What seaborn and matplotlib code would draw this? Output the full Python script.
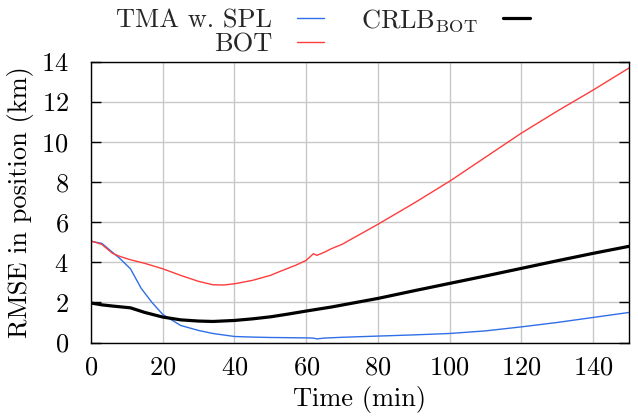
import numpy as np
import pandas as pd
import seaborn as sns
from matplotlib import pyplot as plt

# values
t_tma = [0, 3, 6, 8, 11, 14, 17, 20, 25, 30, 34, 40, 45, 50, 55, 60, 62, 63, 65, 70, 80, 90, 100, 110, 120, 130, 140, 150]
rmse_tma = [5.05, 4.95, 4.5, 4.2, 3.68, 2.7, 2.0, 1.4, 0.85, 0.6, 0.45, 0.3, 0.27, 0.25, 0.24, 0.23, 0.22, 0.18, 0.22, 0.26, 0.32, 0.38, 0.45, 0.58, 0.78, 1.0, 1.25, 1.5]

t_bot = [0, 3, 6, 8, 11, 15, 20, 25, 30, 34, 37, 40, 45, 50, 53, 57, 60, 62, 63, 65, 67, 70, 80, 90, 100, 110, 120, 130, 140, 150]
rmse_bot = [5.07, 4.9, 4.45, 4.3, 4.13, 3.95, 3.68, 3.35, 3.05, 2.88, 2.87, 2.93, 3.1, 3.35, 3.57, 3.85, 4.1, 4.43, 4.35, 4.5, 4.68, 4.9, 5.9, 6.95, 8.05, 9.25, 10.45, 11.55, 12.6, 13.7]

t_crlb = [0, 3, 6, 11, 15, 20, 25, 30, 34, 40, 45, 50, 55, 60, 67, 80, 90, 100, 110, 120, 130, 140, 150]
rmse_crlb = [1.97, 1.88, 1.82, 1.73, 1.5, 1.27, 1.13, 1.07, 1.05, 1.1, 1.18, 1.28, 1.42, 1.57, 1.77, 2.2, 2.58, 2.95, 3.32, 3.7, 4.08, 4.45, 4.8]

x_ticks = [0, 20, 40, 60, 80, 100, 120, 140]
y_ticks = [0, 2, 4, 6, 8, 10, 12, 14]

sns.set_theme(style='white')
plt.rcParams['font.family'] = ['cmr10', 'DejaVu Serif']
plt.rcParams['mathtext.fontset'] = 'cm'
plt.rcParams['axes.formatter.use_mathtext'] = True
plt.rcParams['axes.unicode_minus'] = False

fs = 19
fig = plt.figure(figsize=(6.38, 4.17), dpi=100)
ax = fig.add_subplot(1, 1, 1)
fig.subplots_adjust(left=91/638, right=629/638, top=1-62/417, bottom=1-342.5/417)

sns.lineplot(x=t_tma, y=rmse_tma, ax=ax, color='#2f6fe8', linewidth=1.0, label='TMA w. SPL')
sns.lineplot(x=t_bot, y=rmse_bot, ax=ax, color='#ff3c3c', linewidth=1.0, label='BOT')
sns.lineplot(x=t_crlb, y=rmse_crlb, ax=ax, color='black', linewidth=2.3, label=r'CRLB$_{\mathrm{BOT}}$')

ax.set_xlim(0, 150)
ax.set_ylim(0, 14)
ax.set_xticks(x_ticks)
ax.set_yticks(y_ticks)
ax.grid(True, color='#c8c8c8', linewidth=1.0)
ax.set_axisbelow(True)
for s in ax.spines.values():
    s.set_color('black')
    s.set_linewidth(1.0)
ax.tick_params(axis='x', direction='in', length=7, width=1, colors='black', labelsize=fs, pad=9.5)
ax.tick_params(axis='y', direction='in', length=7, width=1, colors='black', labelsize=fs, right=True, left=True, pad=16)
ax.set_xlabel('Time (min)', fontsize=fs, color='black', labelpad=5)
ax.set_ylabel('RMSE in position (km)', fontsize=fs, color='black', labelpad=5)

handles, labels = ax.get_legend_handles_labels()
ax.get_legend().remove()
fig.legend(handles, labels, loc='upper left', bbox_to_anchor=(116/638, 1-7/417),
           bbox_transform=fig.transFigure, ncol=2, frameon=False,
           markerfirst=False, handlelength=1.02, fontsize=fs, columnspacing=1.4,
           labelspacing=0.02, handletextpad=0.95, borderpad=0, borderaxespad=0)

plt.savefig('out.png', dpi=100)
